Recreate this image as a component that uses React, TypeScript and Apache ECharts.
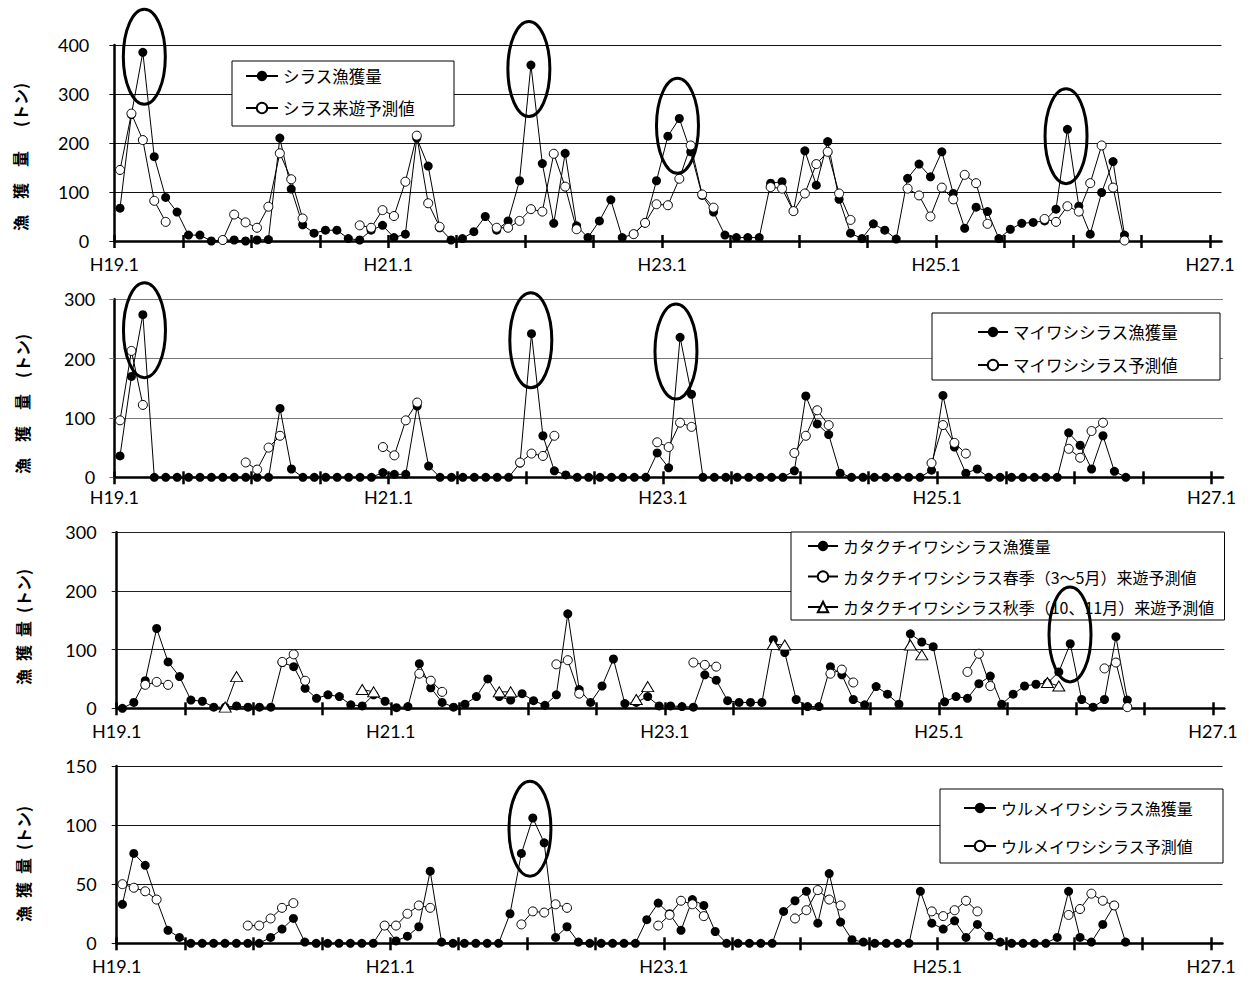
import React, { useEffect, useRef } from 'react';
import * as echarts from 'echarts';

// Month index 0 = H19.1 (Jan 2007). Values are monthly (tonnes), index 0..88 (H19.1 .. H26.5).
const tickMonths = [0, 6, 12, 18, 24, 30, 36, 42, 48, 54, 60, 66, 72, 78, 84, 90, 96];
const labelMonths = [0, 24, 48, 72, 96];

// ---- Panel 1: シラス
const shirasuCatch = [
  67, 258, 385, 172, 89, 59, 12, 12, 0, 2, 2, 0,
  2, 3, 210, 106, 33, 16, 22, 22, 5, 2, 22, 32,
  7, 14, 210, 153, 27, 2, 5, 19, 50, 22, 41, 123,
  359, 158, 36, 179, 31, 7, 41, 84, 7, 14, 37, 123,
  214, 250, 182, 93, 59, 12, 7, 7, 7, 118, 121, 61,
  184, 114, 203, 85, 16, 5, 35, 22, 4, 128, 157, 131,
  182, 97, 26, 69, 60, 5, 24, 36, 38, 41, 65, 228,
  71, 14, 99, 162, 12,
];
const shirasuForecast = [
  145, 260, 206, 82, 39, null, null, null, null, 2, 54, 38,
  27, 70, 179, 126, 46, null, null, null, null, 32, 27, 63,
  51, 121, 215, 77, 29, null, null, null, null, 27, 27, 41,
  65, 60, 178, 111, 24, null, null, null, null, 14, 37, 75,
  73, 127, 195, 95, 68, null, null, null, null, 110, 107, 61,
  97, 157, 182, 97, 43, null, null, null, null, 107, 93, 50,
  109, 85, 135, 118, 35, null, null, null, null, 45, 39, 71,
  60, 118, 195, 109, 1,
];

// ---- Panel 2: マイワシシラス
const maiwashiCatch = [
  36, 170, 274, 0, 0, 0, 0, 0, 0, 0, 0, 0,
  0, 0, 116, 14, 0, 0, 0, 0, 0, 0, 0, 8,
  5, 5, 120, 19, 0, 0, 0, 0, 0, 0, 0, 24,
  242, 70, 11, 4, 0, 0, 0, 0, 0, 0, 0, 41,
  16, 236, 140, 0, 0, 0, 0, 0, 0, 0, 0, 11,
  137, 90, 72, 7, 0, 0, 0, 0, 0, 0, 0, 12,
  138, 51, 7, 14, 0, 0, 0, 0, 0, 0, 0, 75,
  54, 14, 70, 10, 0,
];
const maiwashiForecast = [
  96, 213, 122, null, null, null, null, null, null, null, null, 25,
  13, 50, 70, null, null, null, null, null, null, null, null, 51,
  37, 96, 126, null, null, null, null, null, null, null, null, 25,
  40, 36, 70, null, null, null, null, null, null, null, null, 59,
  51, 92, 85, null, null, null, null, null, null, null, null, 41,
  70, 113, 88, null, null, null, null, null, null, null, null, 24,
  88, 58, 40, null, null, null, null, null, null, null, null, 48,
  33, 78, 92, null, null,
];

// ---- Panel 3: カタクチイワシシラス
const katakuchiCatch = [
  0, 10, 47, 136, 79, 54, 14, 12, 2, 2, 4, 2,
  2, 2, 78, 71, 34, 17, 23, 20, 6, 4, 23, 12,
  1, 3, 76, 35, 10, 2, 7, 20, 50, 20, 14, 25,
  13, 5, 23, 161, 32, 10, 38, 84, 8, 10, 20, 4,
  4, 3, 2, 57, 48, 13, 10, 10, 10, 117, 95, 15,
  3, 3, 71, 57, 15, 6, 37, 24, 7, 127, 113, 105,
  11, 20, 17, 42, 55, 7, 24, 38, 41, 43, 62, 110,
  15, 2, 15, 122, 14,
];
const katakuchiSpring = [
  null, null, 40, 45, 40, null, null, null, null, null, null, null,
  null, null, 79, 92, 47, null, null, null, null, null, null, null,
  null, null, 59, 47, 28, null, null, null, null, null, null, null,
  null, null, 75, 82, 25, null, null, null, null, null, null, null,
  null, null, 78, 74, 71, null, null, null, null, null, null, null,
  null, null, 59, 66, 44, null, null, null, null, null, null, null,
  null, null, 62, 93, 38, null, null, null, null, null, null, null,
  null, null, 68, 78, 2,
];
const katakuchiAutumn = [
  null, null, null, null, null, null, null, null, null, 2, 54, null,
  null, null, null, null, null, null, null, null, null, 32, 28, null,
  null, null, null, null, null, null, null, null, null, 28, 28, null,
  null, null, null, null, null, null, null, null, null, 15, 37, null,
  null, null, null, null, null, null, null, null, null, 109, 108, null,
  null, null, null, null, null, null, null, null, null, 108, 91, null,
  null, null, null, null, null, null, null, null, null, 44, 38, null,
  null, null, null, null, null,
];

// ---- Panel 4: ウルメイワシシラス
const urumeCatch = [
  33, 76, 66, 37, 11, 5, 0, 0, 0, 0, 0, 0,
  0, 5, 12, 21, 1, 0, 0, 0, 0, 0, 0, 15,
  2, 6, 14, 61, 1, 0, 0, 0, 0, 0, 25, 76,
  106, 85, 5, 14, 1, 0, 0, 0, 0, 0, 20, 34,
  25, 11, 37, 32, 10, 0, 0, 0, 0, 0, 27, 36,
  44, 17, 59, 18, 3, 1, 0, 0, 0, 0, 44, 17,
  12, 19, 5, 16, 6, 1, 0, 0, 0, 0, 5, 44,
  5, 1, 16, 32, 1,
];
const urumeForecast = [
  50, 47, 44, 37, null, null, null, null, null, null, null, 15,
  15, 21, 30, 34, null, null, null, null, null, null, null, 15,
  15, 25, 32, 30, null, null, null, null, null, null, null, 16,
  27, 26, 33, 30, null, null, null, null, null, null, null, 15,
  24, 36, 33, 23, null, null, null, null, null, null, null, 21,
  28, 45, 37, 32, null, null, null, null, null, null, null, 27,
  23, 28, 36, 27, null, null, null, null, null, null, null, 24,
  29, 42, 36, 32, null,
];

// Highlight ellipses (centre in data coordinates of each panel)
const highlights = [
  { panel: 0, month: 2.63, value: 376 },
  { panel: 0, month: 36.32, value: 351 },
  { panel: 0, month: 49.34, value: 235 },
  { panel: 0, month: 83.38, value: 214 },
  { panel: 1, month: 2.64, value: 248 },
  { panel: 1, month: 36.44, value: 231 },
  { panel: 1, month: 49.14, value: 212 },
  { panel: 2, month: 83.48, value: 126 },
  { panel: 3, month: 36.25, value: 97 },
];

const CJK = '"Noto Sans CJK JP", "Noto Sans CJK SC", sans-serif';
const NUM = 'Lato, "Liberation Sans", sans-serif';

const panels = [
  { top: 45, height: 196, left: 114.3, width: 1107.2, yMax: 400, yInterval: 100, gridColor: '#111', yLabelMargin: 25, xLabelMargin: 14,
    legend: { left: 232, top: 61, itemWidth: 32, itemGap: 12, padding: [5, 39, 8, 13], fontSize: 16.5 },
    name: { x: 20, y: 157, text: '漁\u3000獲\u3000量\u3000\u2002(トン)' } },
  { top: 299.3, height: 178, left: 114.3, width: 1108.7, yMax: 300, yInterval: 100, gridColor: '#777', yLabelMargin: 19, xLabelMargin: 11,
    legend: { left: 932, top: 313, itemWidth: 30, itemGap: 13, padding: [9, 42, 5, 45], fontSize: 16.5 },
    name: { x: 22, y: 404, text: '漁\u3000獲\u3000量\u3000(トン)' } },
  { top: 532.3, height: 176, left: 116.7, width: 1107.7, yMax: 300, yInterval: 100, gridColor: '#222', yLabelMargin: 20, xLabelMargin: 14,
    legend: { left: 791, top: 532, itemWidth: 30, itemGap: 10.5, padding: [4, 10, 3, 16], fontSize: 16 },
    name: { x: 23, y: 627, text: '漁\u2002獲\u2002量\u2002(トン)' } },
  { top: 766, height: 177.3, left: 116.7, width: 1105.8, yMax: 150, yInterval: 50, gridColor: '#111', yLabelMargin: 20, xLabelMargin: 14,
    legend: { left: 940, top: 789, itemWidth: 32, itemGap: 18, padding: [9, 30, 7, 23], fontSize: 16 },
    name: { x: 23, y: 864, text: '漁\u2002獲\u2002量\u2002(トン)' } },
];

const seriesDefs = [
  { panel: 0, name: 'シラス漁獲量', data: shirasuCatch, kind: 'filled' },
  { panel: 0, name: 'シラス来遊予測値', data: shirasuForecast, kind: 'open' },
  { panel: 1, name: 'マイワシシラス漁獲量', data: maiwashiCatch, kind: 'filled' },
  { panel: 1, name: 'マイワシシラス予測値', data: maiwashiForecast, kind: 'open' },
  { panel: 2, name: 'カタクチイワシシラス漁獲量', data: katakuchiCatch, kind: 'filled' },
  { panel: 2, name: 'カタクチイワシシラス春季（3～5月）来遊予測値', data: katakuchiSpring, kind: 'open' },
  { panel: 2, name: 'カタクチイワシシラス秋季（10、11月）来遊予測値', data: katakuchiAutumn, kind: 'tri' },
  { panel: 3, name: 'ウルメイワシシラス漁獲量', data: urumeCatch, kind: 'filled' },
  { panel: 3, name: 'ウルメイワシシラス予測値', data: urumeForecast, kind: 'open' },
];

function buildOption(): any {
  const grid = panels.map((p) => ({ left: p.left, top: p.top, width: p.width, height: p.height, containLabel: false }));
  const xAxis: any[] = [];
  const yAxis: any[] = [];
  panels.forEach((p, g) => {
    xAxis.push({
      gridIndex: g, type: 'value', min: 0, max: 97, position: 'bottom',
      axisLine: { show: true, lineStyle: { color: '#000', width: 2.5 } },
      axisTick: { show: true, customValues: tickMonths, length: 7, lineStyle: { color: '#000', width: 2.5 } },
      axisLabel: {
        show: true, customValues: labelMonths, margin: p.xLabelMargin,
        formatter: (v: number) => 'H' + (19 + v / 12) + '.1',
        fontSize: 18, fontFamily: NUM, color: '#000',
      },
      splitLine: { show: false },
    });
    xAxis.push({
      gridIndex: g, type: 'value', min: 0, max: 97, position: 'bottom',
      axisLine: { show: false },
      axisTick: { show: true, inside: true, customValues: tickMonths, length: 6, lineStyle: { color: '#000', width: 2.5 } },
      axisLabel: { show: false },
      splitLine: { show: false },
    });
    yAxis.push({
      gridIndex: g, type: 'value', min: 0, max: p.yMax, interval: p.yInterval,
      axisLine: { show: true, lineStyle: { color: '#000', width: 2.5 } },
      axisTick: { show: true, length: 5, lineStyle: { color: p.gridColor, width: 1 } },
      axisLabel: { margin: p.yLabelMargin, fontSize: 18, fontFamily: NUM, color: '#000' },
      splitLine: { show: true, lineStyle: { color: p.gridColor, width: 1 } },
    });
  });

  const series = seriesDefs.map((s) => {
    const base: any = {
      type: 'line', name: s.name,
      xAxisIndex: s.panel * 2, yAxisIndex: s.panel,
      data: s.data.map((v, i) => [i + 0.5, v == null ? '-' : v]),
      connectNulls: false,
      lineStyle: { color: '#000', width: 1 },
      showSymbol: true,
      emphasis: { disabled: true },
      animation: false,
    };
    if (s.kind === 'filled') {
      base.symbol = 'circle'; base.symbolSize = 9;
      base.itemStyle = { color: '#000', borderColor: '#000', borderWidth: 0 };
    } else if (s.kind === 'open') {
      base.symbol = 'circle'; base.symbolSize = 9;
      base.itemStyle = { color: '#fff', borderColor: '#000', borderWidth: 1 };
    } else {
      base.symbol = 'triangle'; base.symbolSize = [12, 10];
      base.itemStyle = { color: '#fff', borderColor: '#000', borderWidth: 1 };
    }
    return base;
  });

  const legend = panels.map((p, g) => ({
    data: seriesDefs.filter((s) => s.panel === g).map((s) => s.name),
    orient: 'vertical',
    left: p.legend.left, top: p.legend.top,
    itemWidth: p.legend.itemWidth, itemHeight: 13, itemGap: p.legend.itemGap,
    padding: p.legend.padding,
    borderColor: '#000', borderWidth: 1, borderRadius: 0,
    backgroundColor: '#fff',
    selectedMode: false,
    textStyle: { fontSize: p.legend.fontSize, fontFamily: CJK, color: '#000', lineHeight: 20 },
  }));

  return {
    animation: false,
    backgroundColor: '#fff',
    grid, xAxis, yAxis, series, legend,
  };
}

export default function App() {
  const ref = useRef<HTMLDivElement>(null);
  useEffect(() => {
    if (!ref.current) return;
    const chart = echarts.init(ref.current, null, { renderer: 'svg' });
    chart.setOption(buildOption());
    const gfx: any[] = [];
    highlights.forEach((h) => {
      const pt = chart.convertToPixel({ gridIndex: h.panel } as any, [h.month, h.value]) as number[];
      gfx.push({
        type: 'ellipse', z: 100,
        shape: { cx: pt[0], cy: pt[1], rx: 21, ry: 47.5 },
        style: { fill: 'none', stroke: '#000', lineWidth: 3 },
      });
    });
    panels.forEach((p) => {
      gfx.push({
        type: 'text', x: p.name.x, y: p.name.y, rotation: Math.PI / 2, z: 100,
        style: {
          text: p.name.text, fontSize: 16, fontWeight: 'bold', fontFamily: CJK, fill: '#000',
          align: 'center', verticalAlign: 'middle', textAlign: 'center', textVerticalAlign: 'middle',
        },
      });
    });
    chart.setOption({ graphic: gfx });
    return () => chart.dispose();
  }, []);
  return (
    <div
      ref={ref}
      style={{ position: 'fixed', left: 0, top: 0, width: 1259, height: 981, background: '#fff' }}
    />
  );
}
